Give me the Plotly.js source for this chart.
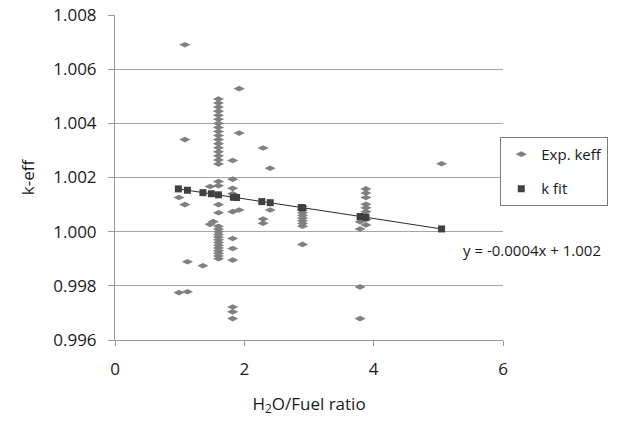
<!DOCTYPE html>
<html>
<head>
<meta charset="utf-8">
<script src="https://cdn.plot.ly/plotly-3.0.1.min.js"></script>
<style>html,body{margin:0;padding:0;background:#fff;}#chart{width:618px;height:425px;}</style>
</head>
<body>
<div id="chart"></div>
<script>
// Experimental k-eff values (x = H2O/Fuel ratio)
var expX = [
  1.08, 1.08, 1.08,
  0.99, 0.99,
  1.12, 1.12,
  1.36,
  1.47, 1.52, 1.47,
  1.60, 1.60, 1.60, 1.60, 1.60, 1.60, 1.60, 1.60, 1.60, 1.60, 1.60, 1.60, 1.60, 1.60, 1.60, 1.60, 1.60,
  1.60, 1.60, 1.60, 1.60,
  1.60, 1.60, 1.60, 1.60, 1.60, 1.60, 1.60, 1.60, 1.60, 1.60, 1.60, 1.60, 1.60,
  1.82, 1.82, 1.82, 1.82, 1.82, 1.82, 1.82, 1.82, 1.82, 1.82, 1.82,
  1.92, 1.92, 1.92,
  2.29, 2.29, 2.29,
  2.40, 2.40,
  2.90, 2.90, 2.90, 2.90, 2.90, 2.90, 2.90, 2.90, 2.90,
  3.88, 3.88, 3.88, 3.88, 3.88, 3.88, 3.88, 3.88,
  3.79, 3.79, 3.79, 3.79,
  5.05
];
var expY = [
  1.0069, 1.0034, 1.0010,
  1.00126, 0.99775,
  0.99889, 0.99778,
  0.99874,
  1.00027, 1.00037, 1.00167,
  1.0049, 1.00475, 1.0046, 1.00445, 1.0043, 1.00415, 1.0040, 1.00385, 1.0037, 1.00355, 1.0034, 1.00325, 1.0031, 1.00295, 1.0028, 1.00265, 1.0025,
  1.00185, 1.0017, 1.0010, 1.0007,
  1.0002, 1.0001, 1.0000, 0.9999, 0.9998, 0.9997, 0.9996, 0.9995, 0.9994, 0.9993, 0.9992, 0.9991, 0.9990,
  1.00263, 1.00194, 1.0016, 1.0014, 1.00074, 0.99975, 0.99938, 0.99895, 0.99722, 0.99704, 0.99679,
  1.00528, 1.00364, 1.0008,
  1.00309, 1.00047, 1.00031,
  1.00234, 1.0008,
  1.00093, 1.0008, 1.0007, 1.0006, 1.0005, 1.0004, 1.0003, 1.0002, 0.99953,
  1.00158, 1.00143, 1.00126, 1.00101, 1.00088, 1.00074, 1.00045, 1.00025,
  1.00037, 1.0001, 0.99796, 0.99679,
  1.00251
];
// Fitted k values
var fitX = [0.98, 1.12, 1.36, 1.49, 1.60, 1.83, 1.88, 2.27, 2.40, 2.88, 2.90, 3.79, 3.88, 5.05];
var fitY = [1.00158, 1.00153, 1.00144, 1.0014, 1.00136, 1.00127, 1.00126, 1.00111, 1.00107, 1.00089, 1.00088, 1.00056, 1.00053, 1.0001];
var xTicks = [0, 2, 4, 6];
var equation = 'y = -0.0004x + 1.002';

var FONT = 'Open Sans, Noto Sans, sans-serif';
var TXT = '#1a1a1a';

var traces = [
  {
    x: fitX, y: fitY, type: 'scatter', mode: 'lines',
    line: {color: '#2b2b2b', width: 1},
    showlegend: false, hoverinfo: 'skip'
  },
  {
    x: expX, y: expY, type: 'scatter', mode: 'markers', name: 'Exp. keff',
    legendgroup: 'a',
    marker: {symbol: 'diamond-wide', size: 8, color: '#808080'}
  },
  {
    x: fitX, y: fitY, type: 'scatter', mode: 'markers', name: 'k fit',
    legendgroup: 'b',
    marker: {symbol: 'square', size: 7, color: '#404040'}
  }
];

var layout = {
  width: 618, height: 425,
  margin: {l: 115, r: 115, t: 15, b: 85, autoexpand: false},
  paper_bgcolor: '#ffffff', plot_bgcolor: '#ffffff',
  font: {family: FONT, size: 17, color: TXT},
  showlegend: true,
  legend: {
    x: 0.993, y: 0.625, xanchor: 'left', yanchor: 'top',
    bordercolor: '#7a7a7a', borderwidth: 1, bgcolor: '#ffffff',
    font: {family: FONT, size: 15, color: TXT},
    traceorder: 'grouped', tracegroupgap: 12, itemwidth: 30
  },
  xaxis: {
    range: [0, 6], tickvals: xTicks, ticktext: xTicks.map(String),
    ticks: 'outside', ticklen: 5, tickcolor: '#999999',
    showline: true, linecolor: '#999999', linewidth: 1,
    showgrid: false, zeroline: false,
    tickfont: {family: FONT, size: 17, color: TXT},
    ticklabelstandoff: 9,
    title: {text: 'H<sub>2</sub>O/Fuel ratio', font: {family: FONT, size: 17, color: TXT}, standoff: 18},
    automargin: false
  },
  yaxis: {
    range: [0.996, 1.008], dtick: 0.002, tick0: 0.996, tickformat: '.3f',
    ticks: 'outside', ticklen: 6, tickcolor: '#999999',
    showline: true, linecolor: '#999999', linewidth: 1,
    showgrid: true, gridcolor: '#a6a6a6', gridwidth: 1, zeroline: false,
    tickfont: {family: FONT, size: 17, color: TXT},
    ticklabelstandoff: 8,
    title: {text: 'k-eff', font: {family: FONT, size: 17, color: TXT}, standoff: 14},
    automargin: false
  },
  annotations: [{
    xref: 'paper', yref: 'paper', x: 1.074, y: 0.277,
    xanchor: 'center', yanchor: 'middle', showarrow: false,
    text: equation, font: {family: FONT, size: 15, color: TXT}
  }]
};

Plotly.newPlot('chart', traces, layout, {displayModeBar: false, staticPlot: true});
</script>
</body>
</html>
